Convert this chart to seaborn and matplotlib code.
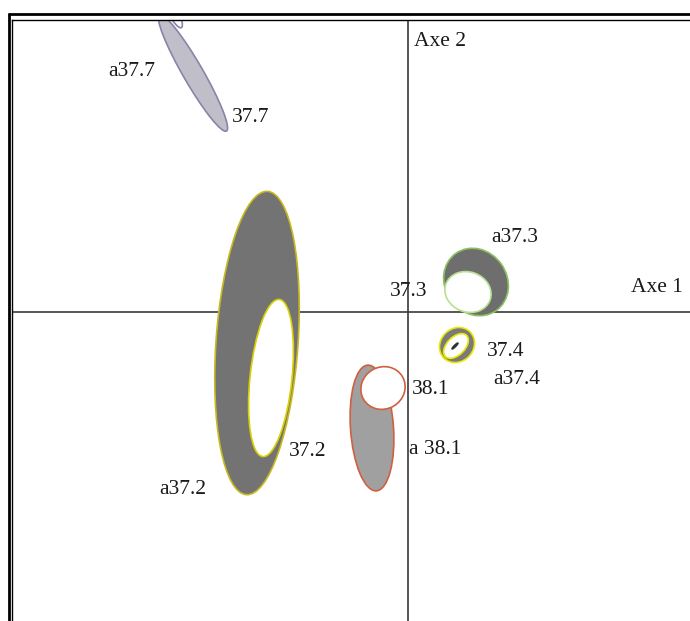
import matplotlib
matplotlib.use("Agg")
import matplotlib.pyplot as plt
from matplotlib.patches import Ellipse
from matplotlib.lines import Line2D
import seaborn as sns

sns.set_theme(style="white")
plt.rcParams['font.family'] = ['Liberation Serif', 'DejaVu Serif']

# ellipse data (factor-plane coordinates)
names = ['a37.7', '37.7', 'a37.2', '37.2', 'a37.3', '37.3', 'a37.4', '37.4', 'c37.4', 'a38.1', '38.1']
cx = [-2.15, -2.36, -1.51, -1.37, 0.68, 0.60, 0.49, 0.48, 0.47, -0.36, -0.25]
cy = [2.39, 3.02, -0.31, -0.66, 0.30, 0.20, -0.33, -0.34, -0.34, -1.16, -0.76]
widths = [1.34, 0.40, 3.04, 1.58, 0.70, 0.47, 0.37, 0.30, 0.08, 1.26, 0.45]
heights = [0.20, 0.10, 0.82, 0.42, 0.62, 0.40, 0.33, 0.18, 0.015, 0.43, 0.42]
angles = [-60, -62, 86, 84, -55, -20, 45, 45, 45, 94, 30]
faces = ['#c0bec8', 'white', '#737373', 'white', '#6e6e6e', 'white', '#7a7a7a', 'white', '#333333', '#a0a0a0', 'white']
edges = ['#8884a8', '#8884a8', '#c8b820', '#d8d000', '#8cc060', '#b8e090', '#e8e800', '#e8e800', '#333333', '#d06040', '#d06040']

# labels
label_text = ['Axe 2', 'a37.7', '37.7', 'a37.3', '37.3', 'Axe 1', '37.4', 'a37.4', '38.1', 'a 38.1', '37.2', 'a37.2']
label_x = [0.06, -3.00, -1.76, 0.83, -0.18, 2.23, 0.79, 0.85, 0.04, 0.01, -1.19, -2.49]
label_y = [2.70, 2.40, 1.94, 0.74, 0.20, 0.25, -0.39, -0.67, -0.78, -1.38, -1.39, -1.78]

fig = plt.figure(figsize=(6.9, 6.21), dpi=100)
ax = fig.add_axes([12 / 690, 0, 678 / 690, 601 / 621])

for i in range(len(names)):
    ax.add_patch(Ellipse((cx[i], cy[i]), widths[i], heights[i], angle=angles[i],
                         facecolor=faces[i], edgecolor=edges[i], lw=1.2))

ax.axhline(0, color='#3a3a3a', lw=1.2, zorder=0.5)
ax.axvline(0, color='#3a3a3a', lw=1.2, zorder=0.5)

for t, x, y in zip(label_text, label_x, label_y):
    ax.text(x, y, t, ha='left', va='center', fontsize=15.5, color='#1a1a1a')

ax.set_xlim(-3.96, 2.82)
ax.set_ylim(-3.09, 2.92)
ax.set_xticks([])
ax.set_yticks([])
for s in ['right', 'bottom']:
    ax.spines[s].set_visible(False)
for s in ['top', 'left']:
    ax.spines[s].set_color('black')
    ax.spines[s].set_linewidth(1.0)

# outer frame lines (double border)
fig.add_artist(Line2D([9 / 690, 9 / 690], [0, 1 - 14 / 621], color='black', lw=2))
fig.add_artist(Line2D([9 / 690, 1], [1 - 14 / 621, 1 - 14 / 621], color='black', lw=2))

fig.savefig('out.png', dpi=100)
